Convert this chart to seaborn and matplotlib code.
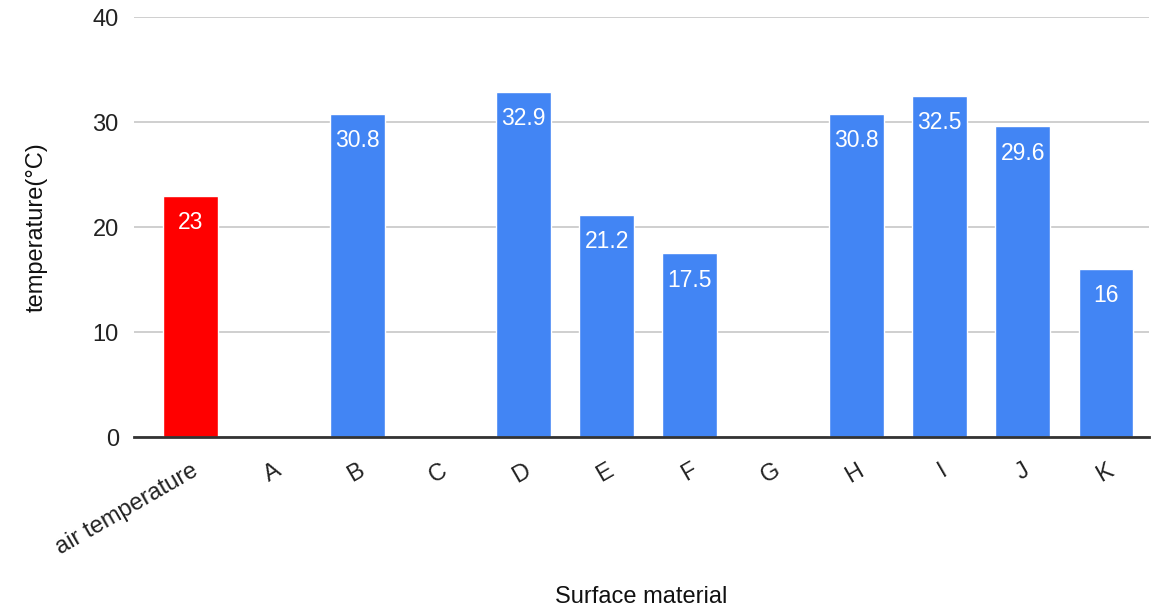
import numpy as np
import pandas as pd
import matplotlib
matplotlib.use('Agg')
import matplotlib.pyplot as plt
import matplotlib.transforms as mtransforms
import seaborn as sns

categories = ['air temperature', 'A', 'B', 'C', 'D', 'E', 'F', 'G', 'H', 'I', 'J', 'K']
temps = [23, np.nan, 30.8, np.nan, 32.9, 21.2, 17.5, np.nan, 30.8, 32.5, 29.6, 16]
bar_colors = ['#ff0000'] + ['#4285f4'] * 11
y_ticks = [0, 10, 20, 30, 40]

sns.set_theme(style='white')
plt.rcParams['font.family'] = ['Liberation Sans', 'DejaVu Sans']

df = pd.DataFrame({'material': categories, 'temp': temps})

fig = plt.figure(figsize=(11.51, 6.09), dpi=100)
ax = fig.add_axes([0.1165, 0.282, 0.882, 0.69])

sns.barplot(data=df, x='material', y='temp', hue='material', order=categories,
            hue_order=categories, palette=bar_colors, legend=False,
            width=0.66, saturation=1, ax=ax)

# value labels inside the bar tops
for patch in ax.patches:
    h = patch.get_height()
    if np.isnan(h) or h == 0:
        continue
    ax.annotate(f'{h:g}', (patch.get_x() + patch.get_width() / 2, h),
                xytext=(0, -11), textcoords='offset points',
                ha='center', va='top', color='white', fontsize=16.5)

ax.set_ylim(0, 40)
ax.set_xlim(-0.68, 11.52)
ax.set_yticks(y_ticks)
ax.yaxis.grid(True, color='#cccccc', linewidth=1.3)
ax.set_axisbelow(True)
for s in ['left', 'right', 'top']:
    ax.spines[s].set_visible(False)
ax.spines['bottom'].set_color('#333333')
ax.spines['bottom'].set_linewidth(2)
ax.tick_params(axis='both', length=0, labelsize=17, colors='#222222')
ax.tick_params(axis='y', pad=11)

offset = mtransforms.ScaledTranslation(14 / 100, 0, fig.dpi_scale_trans)
for lbl in ax.get_xticklabels():
    lbl.set_rotation(30)
    lbl.set_ha('right')
    lbl.set_rotation_mode('anchor')
    lbl.set_transform(lbl.get_transform() + offset)
ax.tick_params(axis='x', pad=16)

ax.set_xlabel('Surface material', fontsize=17, color='#111111')
ax.set_ylabel('temperature(°C)', fontsize=17, color='#111111')
ax.xaxis.set_label_coords(0.5, -0.355)
ax.yaxis.set_label_coords(-0.085, 0.5)

fig.savefig('out.png', dpi=100)
